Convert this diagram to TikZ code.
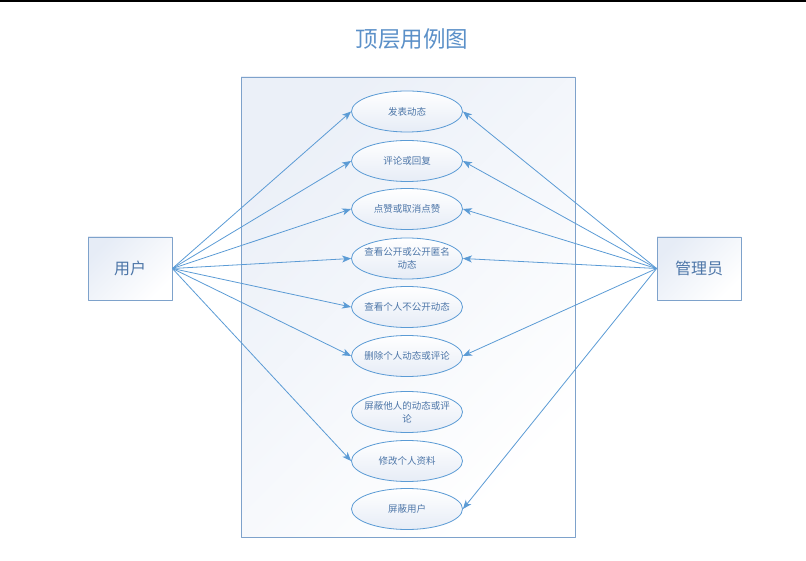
\documentclass[tikz,border=0pt]{standalone}
\usepackage{fontspec}
\newfontfamily\cjk{Noto Sans CJK SC}
\usetikzlibrary{shapes.geometric,arrows.meta}
\definecolor{linec}{HTML}{5B9BD5}
\definecolor{framec}{HTML}{7EA2CB}
\definecolor{textc}{HTML}{4D76A8}
\definecolor{titlec}{HTML}{5B90C8}
\definecolor{shadec}{HTML}{E6ECF6}
\begin{document}
\begin{tikzpicture}[x=1pt,y=-1pt,>={Stealth[length=9pt,width=7pt,inset=2.5pt]}, font=\cjk, line join=round, line cap=round,
    actor/.style={draw=framec,line width=0.8pt,top color=shadec,bottom color=white,shading angle=45,
      minimum width=84pt,minimum height=63pt,inner sep=0pt,text=textc,font=\cjk\fontsize{16}{19}\selectfont},
    usecase/.style={ellipse,draw=linec,line width=0.8pt,top color=white,bottom color=shadec,
      minimum width=111pt,minimum height=41pt,inner xsep=-9pt,inner ysep=0pt,align=center,text=textc,
      font=\cjk\fontsize{9.5}{13}\selectfont},
    conn/.style={draw=linec,line width=0.8pt}]
  \useasboundingbox (0,0) rectangle (806,561);
  \def\ux{407} % x of the use cases
  \fill[black] (0,0) rectangle (806,2.5);
  \node[text=titlec,font=\cjk\fontsize{22.5}{26}\selectfont] (title) at (412,39) {顶层用例图};
  % system frame
  \draw[framec,line width=0.8pt,top color=shadec!80,bottom color=white,shading angle=45] (241,77) rectangle (575,537);
  \node[actor] (user) at (130,268.5) {用户};
  \node[actor] (admin) at (699,268.5) {管理员};
  \foreach \n/\y/\t in {1/111.5/发表动态, 2/161/评论或回复, 3/209/点赞或取消点赞,
      4/258.5/{查看公开或公开匿名\\动态}, 5/307/查看个人不公开动态, 6/356/删除个人动态或评论,
      7/412/{屏蔽他人的动态或评\\论}, 8/461/修改个人资料, 9/509/屏蔽用户}
    \node[usecase] (uc\n) at (\ux,\y) {\t};
  \foreach \n in {1,2,3,4,5,6,8}
    \draw[->,conn] (user.east) -- (uc\n.west);
  \foreach \n in {1,2,3,4,6,9}
    \draw[->,conn] (admin.west) -- (uc\n.east);
\end{tikzpicture}
\end{document}
